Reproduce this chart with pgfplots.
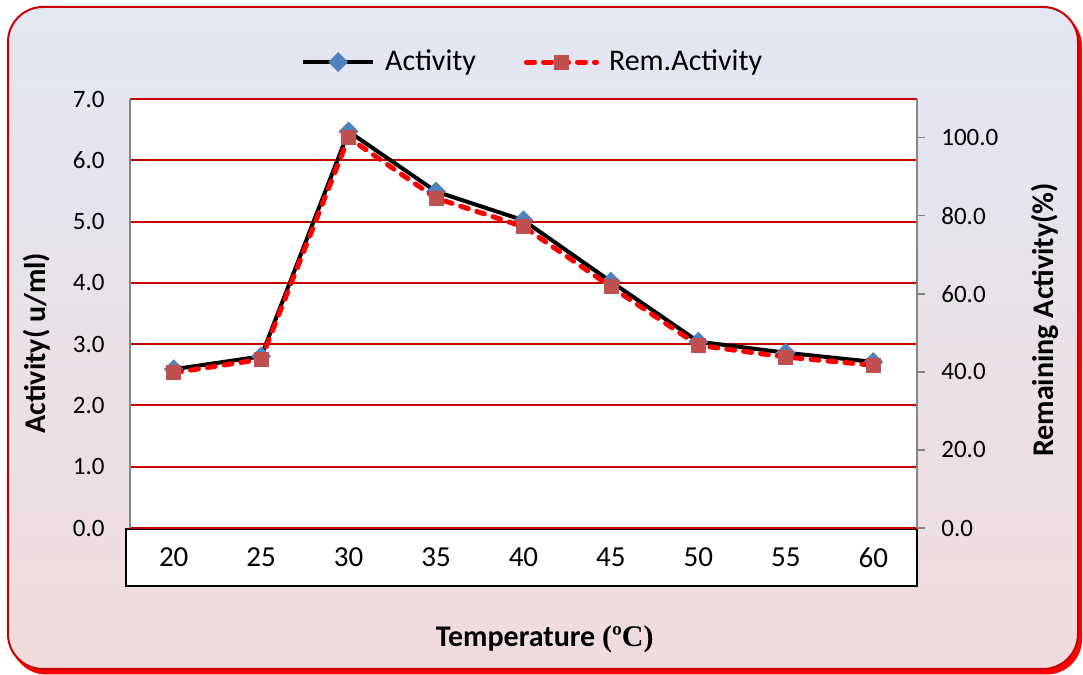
\documentclass[border=0pt]{standalone}
\usepackage{pgfplots}
\pgfplotsset{compat=1.18}
\usepackage{pgfplotstable}
\usepackage{fontspec}
\setmainfont{Carlito}
\newfontfamily\serifbf{Liberation Serif}

\definecolor{bgtop}{RGB}{226,231,243}
\definecolor{bgmid}{RGB}{198,213,237}
\definecolor{bgbot}{RGB}{241,219,220}
\definecolor{framered}{RGB}{200,0,0}
\definecolor{gridred}{RGB}{200,0,0}
\definecolor{spine}{RGB}{134,134,134}
\definecolor{actblue}{RGB}{79,129,189}
\definecolor{remred}{RGB}{192,80,77}

% temperature index (0 = 20 C ... 8 = 60 C), activity (u/ml), remaining activity (%)
\pgfplotstableread{
t act rem
0 2.59 39.8
1 2.80 43.2
2 6.47 100.0
3 5.49 84.5
4 5.02 77.2
5 4.02 61.8
6 3.04 46.8
7 2.86 43.8
8 2.71 41.7
}\tempdata

\pgfplotsset{
  actstyle/.style={black, line width=2pt, mark=square*, mark size=3.3pt,
    mark options={solid, rotate=45, fill=actblue, draw=actblue, line width=0.4pt}},
  remstyle/.style={red, line width=2.5pt, line cap=round, dash pattern=on 4pt off 4.5pt,
    mark=square*, mark size=3.5pt,
    mark options={solid, fill=remred, draw=remred, line width=0.4pt}},
  common/.style={
    at={(65pt,73.5pt)}, anchor=south west,
    scale only axis, width=393.5pt, height=214.5pt,
    xmin=-0.5, xmax=8.5, clip=false,
    /pgf/number format/assume math mode=true,
    y tick label style={/pgf/number format/fixed, /pgf/number format/fixed zerofill,
      /pgf/number format/precision=1, font=\fontsize{12.5}{14}\selectfont, inner sep=0pt},
  },
}

\begin{document}
\begin{tikzpicture}[x=1pt,y=1pt]
\useasboundingbox (0,0) rectangle (541.5,337.5);
% card with drop shadow
\fill[red, rounded corners=17.5pt] (5.5,0.3) rectangle (541,332);
\shade[top color=bgtop, middle color=bgmid, bottom color=bgbot, rounded corners=17.5pt]
  (4,3) rectangle (539,334);
\draw[framered, line width=1pt, rounded corners=17.5pt] (4,3) rectangle (539,334);
% box holding the category labels
\draw[black, line width=0.8pt, fill=white] (63,44.5) rectangle (458.5,73);

\begin{axis}[common,
  ymin=0, ymax=7,
  axis y line*=left, axis x line*=bottom,
  x axis line style={draw=none},
  y axis line style={spine, line width=0.75pt},
  xtick={0,...,8}, xticklabels={20,25,30,35,40,45,50,55,60},
  ytick={0,...,7},
  major tick length=0pt,
  ymajorgrids, grid style={gridred, line width=1pt},
  axis background/.style={fill=white},
  xticklabel style={font=\fontsize{14.5}{16}\selectfont, anchor=center, yshift=-14.75pt},
  yticklabel style={anchor=east, xshift=-12.5pt},
  xlabel={\bfseries Temperature {\serifbf\bfseries (ºC)}},
  xlabel style={at={(axis description cs:0.527,-0.277)}, anchor=base, font=\fontsize{15}{18}\selectfont},
  ylabel={\bfseries Activity( u/ml)},
  ylabel style={at={(axis description cs:-0.118,0.431)}, anchor=center, font=\fontsize{15}{18}\selectfont},
]
\addplot[actstyle] table[x=t, y=act] {\tempdata};
\end{axis}

\begin{axis}[common,
  ymin=0, ymax=109.9,
  axis x line=none,
  axis y line*=right,
  y axis line style={spine, line width=0.75pt},
  ytick={0,20,...,100},
  tick align=outside, major tick length=4pt,
  ytick style={spine, line width=0.75pt},
  yticklabel style={anchor=west, xshift=8pt},
  ylabel={\bfseries Remaining Activity(\%)},
  ylabel style={at={(axis description cs:1.162,0.485)}, anchor=center, font=\fontsize{15}{18}\selectfont},
  legend columns=2,
  legend style={at={(axis description cs:0.513,1.086)}, anchor=center, draw=none, fill=none,
    font=\fontsize{15}{17}\selectfont,
    /tikz/every odd column/.append style={column sep=3pt},
    /tikz/every even column/.append style={column sep=22pt}},
  legend image code/.code={\draw[mark repeat=2, mark phase=2, #1] plot coordinates {(0pt,0pt) (17.5pt,0pt) (35pt,0pt)};},
]
\addlegendimage{actstyle}
\addlegendentry{Activity}
\addplot[remstyle] table[x=t, y=rem] {\tempdata};
\addlegendentry{Rem.Activity}
\end{axis}
\end{tikzpicture}
\end{document}
